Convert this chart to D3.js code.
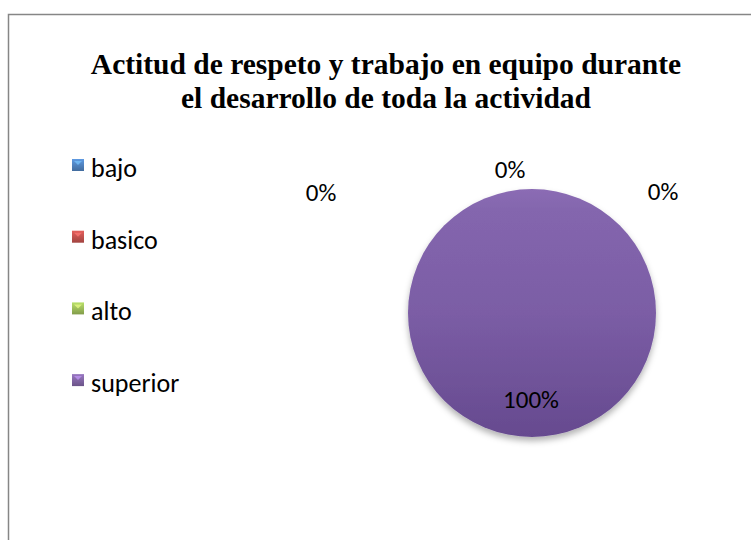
<!DOCTYPE html>
<html><head><meta charset="utf-8">
<script src="https://cdn.jsdelivr.net/npm/d3@7"></script>
<style>body{margin:0;background:#fff}svg{display:block}</style>
</head><body>
<svg id="c" width="751" height="540"></svg>
<script>
const categories = ["bajo", "basico", "alto", "superior"];
const values = [0, 0, 0, 100];
const colors = ["#4F81BD", "#C0504D", "#9BBB59", "#8064A2"];
const titleLines = ["Actitud de respeto y trabajo en equipo durante", "el desarrollo de toda la actividad"];
// data-label offsets relative to the pie centre (Excel spreads the 0% labels apart)
const labelOffsets = [[-211, -112], [-22, -135], [131, -113], [-1, 95]];

const svg = d3.select("#c");
svg.append("path").attr("d", "M8.5,540 V14.5 H751").attr("fill", "none")
  .attr("stroke", "#868686").attr("stroke-width", 1.5);

const title = svg.append("text").attr("font-family", "Liberation Serif, Times New Roman, serif")
  .attr("font-weight", "bold").attr("font-size", 29.5).attr("text-anchor", "middle").attr("fill", "#000");
titleLines.forEach((t, i) => title.append("tspan").attr("x", 386).attr("y", 74 + i * 34).text(t));

const defs = svg.append("defs");
const g = defs.append("linearGradient").attr("id", "pg").attr("x1", 0).attr("y1", 0).attr("x2", 0).attr("y2", 1);
g.append("stop").attr("offset", "0").attr("stop-color", "#8B6CB4");
g.append("stop").attr("offset", "0.08").attr("stop-color", "#8466AE");
g.append("stop").attr("offset", "0.5").attr("stop-color", "#7B5DA5");
g.append("stop").attr("offset", "1").attr("stop-color", "#664A8F");
const f = defs.append("filter").attr("id", "sh").attr("x", "-20%").attr("y", "-20%").attr("width", "140%").attr("height", "150%");
f.append("feDropShadow").attr("dx", 0).attr("dy", 4).attr("stdDeviation", 3)
  .attr("flood-color", "#000").attr("flood-opacity", 0.3);
colors.forEach((c, i) => {
  const lg = defs.append("linearGradient").attr("id", "lg" + i).attr("x1", 0).attr("y1", 0).attr("x2", 0).attr("y2", 1);
  lg.append("stop").attr("offset", 0).attr("stop-color", d3.color(c).brighter(0.5));
  lg.append("stop").attr("offset", 1).attr("stop-color", d3.color(c).darker(0.5));
});

const cx = 532, cy = 313, r = 124;
const pie = d3.pie().sort(null)(values);
const arc = d3.arc().innerRadius(0).outerRadius(r);
const pg = svg.append("g").attr("transform", `translate(${cx},${cy})`);
pg.selectAll("path").data(pie).join("path")
  .attr("d", arc)
  .attr("fill", (d, i) => i === 3 ? "url(#pg)" : colors[i])
  .attr("filter", "url(#sh)");

const total = d3.sum(values);
pg.selectAll("text.lbl").data(pie).join("text").attr("class", "lbl")
  .attr("x", (d, i) => labelOffsets[i][0])
  .attr("y", (d, i) => labelOffsets[i][1])
  .attr("text-anchor", "middle")
  .attr("font-family", "Carlito, Lato, Open Sans, sans-serif").attr("font-size", 25).attr("fill", "#000")
  .text(d => Math.round(d.value / total * 100) + "%");

const leg = svg.append("g");
categories.forEach((c, i) => {
  const y = 159 + i * 71.7;
  leg.append("rect").attr("x", 72).attr("y", y).attr("width", 12).attr("height", 12).attr("fill", `url(#lg${i})`);
  // bevel highlight (small light triangle at top)
  leg.append("path").attr("d", `M${74},${y + 2} L${82},${y + 2} L${78},${y + 6} Z`)
    .attr("fill", d3.color(colors[i]).brighter(1.2)).attr("opacity", 0.7);
  leg.append("text").attr("x", 91).attr("y", y + 18).attr("font-family", "Carlito, Lato, Open Sans, sans-serif")
    .attr("font-size", 26).attr("fill", "#000").text(c);
});
</script>
</body></html>
